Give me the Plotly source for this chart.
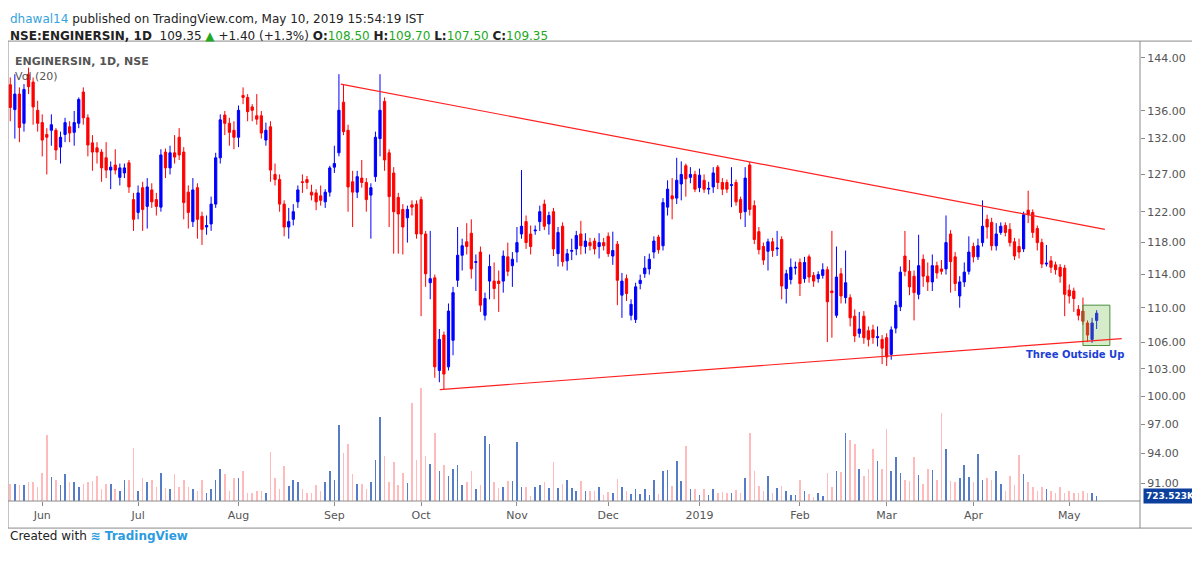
import math
import plotly.graph_objects as go

# daily OHLC, ENGINERSIN (NSE), late May 2018 -> 10 May 2019
opens = [139.9, 136.2, 138.5, 134.2, 141.5, 140.3, 136.1, 134.3, 132.6, 133.2,
         133.2, 130.8, 132.6, 133.7, 132.9, 134.2, 138.8, 135.0, 131.4, 130.7,
         130.1, 129.3, 127.6, 128.3, 126.6, 127.2, 128.6, 123.6, 121.9, 125.2,
         122.7, 124.9, 123.6, 122.6, 130.1, 127.9, 130.0, 132.2, 130.1, 124.6,
         120.7, 125.2, 121.4, 120.0, 120.4, 123.0, 129.3, 135.4, 134.2, 133.2,
         132.2, 138.3, 138.0, 136.6, 135.3, 135.3, 131.8, 133.7, 127.0, 126.3,
         123.0, 120.0, 121.0, 123.3, 126.0, 126.3, 124.6, 124.5, 124.1, 123.3,
         124.6, 128.0, 130.0, 137.3, 133.2, 126.0, 124.6, 126.5, 125.9, 124.2,
         126.7, 132.0, 137.4, 130.0, 127.2, 123.9, 122.3, 121.2, 122.9, 123.0,
         123.6, 119.1, 113.0, 113.6, 102.8, 106.8, 103.2, 106.2, 113.3, 116.4,
         118.1, 119.2, 115.5, 116.8, 109.1, 113.2, 113.2, 113.2, 113.2, 116.2,
         115.1, 116.8, 119.1, 120.7, 119.1, 119.5, 120.7, 123.0, 120.4, 122.0,
         116.6, 120.1, 115.7, 116.9, 117.2, 119.1, 117.5, 118.0, 118.2, 117.5,
         118.0, 118.8, 116.3, 117.8, 111.5, 113.5, 109.1, 108.6, 112.9, 114.1,
         114.7, 116.8, 118.7, 117.6, 122.6, 124.1, 123.8, 125.7, 128.2, 126.6,
         127.0, 125.2, 126.2, 125.0, 125.3, 128.0, 125.9, 125.9, 125.5, 125.9,
         123.6, 122.0, 128.3, 122.8, 119.4, 117.5, 116.9, 118.1, 117.2, 118.4,
         112.3, 113.4, 114.8, 115.5, 113.5, 116.2, 113.9, 113.5, 113.9, 114.6,
         112.0, 109.1, 114.1, 111.2, 111.2, 109.0, 107.0, 109.0, 107.3, 107.4,
         106.5, 106.3, 106.5, 104.6, 107.6, 110.1, 116.3, 114.4, 113.8, 111.6,
         115.9, 113.8, 113.1, 115.1, 114.7, 114.7, 119.1, 116.2, 111.4, 113.1,
         114.4, 117.5, 116.2, 118.0, 121.0, 120.6, 117.6, 119.3, 120.2, 119.7,
         118.1, 117.5, 117.2, 122.2, 121.9, 119.8, 118.0, 115.3, 115.7, 115.2,
         114.9, 114.8, 112.1, 112.0, 109.8, 109.6, 108.2, 106.3, 108.5]
highs = [141.0, 141.5, 139.5, 140.0, 142.5, 141.0, 137.5, 135.5, 133.5, 135.5,
         133.5, 133.0, 135.0, 134.5, 136.0, 138.0, 139.5, 135.5, 132.5, 131.5,
         130.5, 131.5, 128.8, 130.5, 128.5, 128.5, 129.0, 124.5, 125.5, 126.0,
         126.5, 125.8, 124.5, 130.5, 130.6, 131.0, 132.5, 133.5, 130.8, 125.5,
         126.5, 125.8, 122.0, 121.5, 124.0, 130.0, 135.5, 136.0, 135.0, 134.5,
         136.8, 139.5, 138.5, 137.0, 138.5, 136.0, 134.3, 134.5, 128.5, 127.0,
         123.5, 122.5, 123.0, 125.5, 127.0, 126.8, 125.6, 125.0, 125.5, 125.0,
         128.2, 131.0, 141.5, 140.0, 134.0, 127.5, 127.5, 129.0, 126.5, 125.8,
         133.0, 141.5, 138.0, 130.5, 128.0, 124.5, 123.0, 122.8, 123.5, 123.5,
         124.0, 119.5, 119.5, 114.0, 107.5, 107.2, 110.5, 112.5, 120.0, 118.5,
         120.5, 121.0, 116.5, 117.5, 111.8, 116.5, 115.5, 114.5, 117.0, 118.0,
         116.8, 120.0, 127.6, 121.5, 120.2, 120.2, 122.8, 123.6, 122.0, 122.5,
         120.0, 120.6, 117.2, 118.5, 119.5, 120.8, 119.2, 118.6, 118.6, 119.2,
         118.6, 119.3, 119.4, 118.2, 114.2, 114.0, 111.0, 113.0, 114.0, 116.3,
         116.6, 118.8, 119.0, 123.8, 126.2, 126.5, 129.3, 128.8, 128.5, 128.0,
         127.5, 127.8, 127.0, 126.0, 128.0, 128.3, 126.5, 126.3, 128.0, 126.3,
         124.0, 128.0, 128.7, 123.5, 120.0, 118.0, 118.5, 118.6, 119.5, 118.8,
         114.6, 116.0, 115.6, 116.0, 116.2, 116.5, 114.3, 114.4, 115.4, 115.0,
         119.5, 117.5, 114.8, 117.0, 111.6, 109.8, 109.5, 109.6, 107.8, 108.0,
         107.8, 106.8, 107.0, 107.8, 110.8, 115.0, 119.5, 115.8, 114.5, 119.0,
         116.5, 115.5, 116.5, 115.6, 115.8, 121.5, 119.6, 116.8, 113.8, 115.5,
         118.8, 118.0, 118.5, 123.5, 121.6, 121.2, 120.5, 120.6, 120.6, 120.5,
         118.6, 118.5, 122.0, 124.8, 122.3, 120.2, 118.5, 117.7, 116.3, 115.6,
         115.3, 115.2, 112.8, 112.4, 110.3, 111.2, 108.5, 108.8, 109.7]
lows = [134.5, 132.0, 131.5, 133.0, 138.5, 134.0, 133.0, 129.5, 127.0, 131.0,
        129.0, 128.5, 131.5, 131.5, 131.0, 133.5, 134.0, 129.5, 127.5, 128.5,
        126.0, 126.5, 125.0, 127.0, 125.5, 126.5, 124.5, 119.5, 121.0, 119.5,
        119.8, 122.5, 121.5, 122.0, 126.5, 127.0, 128.5, 129.0, 121.0, 119.8,
        120.0, 118.5, 117.7, 119.0, 119.5, 122.5, 128.5, 132.5, 131.0, 130.5,
        130.8, 137.0, 134.5, 134.5, 134.0, 132.0, 131.0, 126.0, 125.5, 122.0,
        118.8, 118.5, 120.2, 122.5, 124.5, 125.0, 123.5, 122.2, 122.8, 122.5,
        124.0, 127.2, 129.5, 132.5, 122.0, 120.0, 123.8, 125.2, 122.0, 118.5,
        126.0, 129.5, 127.5, 120.0, 116.6, 116.6, 116.5, 118.0, 121.5, 118.5,
        109.0, 112.5, 111.0, 102.0, 101.5, 100.7, 102.8, 104.5, 112.5, 114.5,
        116.5, 113.5, 112.0, 109.5, 108.5, 111.0, 111.0, 109.5, 111.8, 113.8,
        112.5, 115.5, 118.5, 117.2, 116.5, 119.0, 119.5, 119.6, 119.0, 116.3,
        115.0, 115.0, 114.5, 115.8, 116.4, 116.5, 116.6, 117.0, 116.5, 116.0,
        117.0, 116.2, 115.2, 110.3, 108.8, 110.8, 108.5, 108.2, 112.2, 113.6,
        114.0, 116.0, 116.6, 117.0, 121.5, 121.0, 123.0, 123.5, 124.0, 125.8,
        124.6, 124.6, 124.5, 124.3, 124.5, 125.0, 124.2, 124.5, 122.6, 122.8,
        121.0, 120.0, 121.5, 117.8, 116.5, 115.2, 114.5, 116.2, 116.3, 111.0,
        110.5, 112.8, 114.0, 111.4, 113.0, 113.0, 112.5, 113.0, 113.5, 106.0,
        106.5, 108.8, 110.5, 110.5, 107.8, 106.0, 106.5, 105.8, 105.5, 105.8,
        105.5, 103.5, 103.3, 104.0, 107.0, 109.6, 113.8, 111.5, 108.5, 111.0,
        112.5, 112.0, 112.0, 113.5, 114.0, 114.0, 111.8, 112.0, 110.0, 112.5,
        114.0, 115.5, 115.8, 117.5, 118.5, 117.0, 117.0, 119.0, 118.8, 117.5,
        115.8, 116.0, 116.8, 120.5, 118.6, 117.0, 114.8, 115.0, 114.2, 114.0,
        113.0, 109.0, 110.5, 109.5, 108.5, 108.0, 106.0, 105.9, 107.5]
closes = [136.5, 138.5, 133.6, 139.2, 139.6, 136.6, 134.2, 131.8, 132.2, 134.0,
          130.4, 132.2, 134.3, 132.8, 134.3, 137.7, 135.0, 131.1, 130.1, 130.1,
          127.9, 127.6, 128.0, 127.6, 127.9, 127.9, 125.3, 121.0, 124.5, 122.3,
          125.3, 123.3, 122.7, 129.7, 127.9, 130.0, 129.4, 129.7, 123.2, 121.9,
          124.9, 121.0, 119.7, 120.2, 123.0, 129.3, 134.7, 134.2, 132.9, 132.2,
          136.1, 138.0, 135.9, 136.1, 134.8, 132.8, 133.2, 127.6, 126.3, 123.0,
          120.0, 120.7, 122.0, 124.9, 125.9, 125.9, 124.2, 123.3, 123.5, 124.6,
          127.9, 128.5, 136.1, 133.0, 125.3, 124.6, 126.7, 125.9, 123.6, 125.2,
          132.2, 136.1, 129.0, 124.0, 122.0, 121.7, 120.0, 122.3, 122.6, 119.1,
          119.1, 114.1, 113.5, 103.2, 106.3, 102.4, 109.6, 111.8, 116.4, 117.6,
          117.5, 114.7, 115.6, 110.3, 111.1, 115.0, 112.3, 112.9, 116.3, 114.4,
          115.9, 118.0, 120.1, 118.0, 117.5, 119.6, 122.0, 120.1, 121.5, 117.2,
          119.3, 115.6, 116.6, 117.0, 118.9, 117.6, 118.2, 117.6, 117.2, 118.0,
          117.6, 116.6, 117.0, 113.3, 113.2, 111.7, 110.4, 112.5, 113.3, 114.8,
          115.9, 118.2, 117.1, 123.2, 125.0, 123.7, 126.2, 127.0, 126.4, 127.0,
          125.0, 126.9, 125.0, 125.1, 127.2, 125.9, 125.0, 125.0, 125.6, 123.3,
          121.9, 126.5, 122.3, 118.4, 117.1, 115.8, 118.1, 117.0, 117.3, 112.6,
          114.1, 114.9, 114.9, 112.9, 115.5, 113.7, 113.2, 114.0, 114.6, 110.7,
          111.8, 113.7, 111.4, 113.0, 108.8, 106.7, 107.5, 106.5, 106.3, 106.5,
          106.6, 105.3, 104.3, 107.4, 110.3, 114.3, 114.4, 112.5, 111.8, 115.1,
          113.8, 113.1, 115.1, 114.2, 114.4, 118.0, 115.6, 112.9, 113.1, 114.3,
          116.8, 116.2, 117.6, 120.1, 120.0, 117.6, 119.1, 120.1, 119.3, 118.0,
          116.3, 116.8, 121.6, 121.6, 119.3, 118.0, 115.3, 115.4, 114.9, 114.6,
          113.8, 111.6, 111.4, 111.1, 109.1, 108.4, 106.8, 108.2, 109.35]
# volume, millions of shares
volumes = [2.4, 2.4, 2.3, 2.3, 2.7, 2.7, 2.0, 4.0, 9.6, 3.5,
           3.1, 2.3, 3.9, 2.7, 2.7, 2.0, 2.4, 2.7, 2.9, 3.6,
           1.8, 2.4, 2.4, 1.7, 1.4, 3.0, 3.1, 7.7, 1.5, 3.3,
           2.8, 3.0, 2.0, 4.1, 1.9, 1.8, 3.9, 2.0, 3.1, 2.0,
           1.7, 1.4, 3.1, 1.1, 1.7, 3.1, 4.6, 3.9, 1.5, 3.4,
           3.3, 4.4, 1.1, 1.2, 1.4, 1.4, 1.1, 7.1, 3.3, 1.8,
           5.1, 2.2, 3.1, 2.7, 1.7, 1.1, 1.1, 2.3, 1.4, 2.7,
           4.4, 3.0, 11.0, 6.9, 8.3, 3.9, 2.4, 2.4, 1.7, 2.7,
           6.0, 12.2, 6.5, 2.8, 5.7, 2.3, 4.1, 2.6, 14.2, 6.0,
           16.4, 6.5, 5.4, 9.9, 4.3, 5.2, 3.6, 4.7, 5.2, 2.3,
           2.7, 4.3, 1.8, 2.3, 9.4, 8.2, 2.7, 1.9, 2.0, 2.9,
           2.9, 8.6, 2.0, 2.0, 0.7, 2.1, 2.3, 2.7, 1.9,
           5.6, 1.9, 2.5, 3.0, 1.9, 1.5, 2.9, 1.4, 1.4, 1.4,
           2.0, 0.9, 1.3, 1.1, 3.2, 2.0, 1.5, 1.0, 1.7, 1.0,
           1.7, 0.9, 3.0, 1.0, 4.4, 4.5, 2.2, 5.8, 2.9, 8.0,
           1.8, 1.8, 0.9, 1.7, 0.9, 1.7, 1.1, 1.3, 1.2, 1.1,
           1.6, 1.1, 3.4, 9.8, 4.4, 2.2, 1.4, 3.6, 1.2, 1.9,
           2.2, 1.5, 0.9, 0.9, 3.1, 1.4, 1.0, 0.6, 1.1, 0.7,
           4.0, 2.0, 4.4, 4.2, 9.8, 8.8, 8.2, 4.6, 3.6, 4.6,
           7.5, 5.8, 4.6, 10.4, 4.4, 6.4, 4.1, 3.0, 2.9, 6.4,
           3.8, 2.4, 4.6, 4.5, 3.0, 12.7, 7.5, 2.9, 2.8, 3.4,
           5.2, 3.5, 2.8, 6.8, 3.0, 3.4, 3.0, 4.4, 2.4, 1.4,
           3.6, 2.3, 6.7, 3.9, 2.7, 2.0, 1.4, 2.0, 1.7, 1.5,
           1.1, 2.0, 1.2, 1.4, 1.1, 1.1, 1.5, 1.2, 1.1, 0.723523]

month_pos = [7, 28, 50, 71, 90, 111, 131, 151, 173, 192, 211, 232]
month_txt = ["Jun", "Jul", "Aug", "Sep", "Oct", "Nov", "Dec", "2019", "Feb", "Mar", "Apr", "May"]
price_ticks = [91, 94, 97, 100, 103, 106, 110, 114, 118, 122, 127, 132, 136, 144]

# hand drawn trend lines and pattern box (bar index, price)
upper_x, upper_y = [72.4, 239.8], [140.0, 119.7]
lower_x, lower_y = [94.1, 243.5], [100.7, 106.4]
box_x, box_y = [235.0, 240.9], [105.6, 110.3]

n = len(closes)
idx = list(range(n))
vol_colors = ["rgba(30,80,180,0.75)" if c >= o else "rgba(255,120,120,0.5)"
              for o, c in zip(opens, closes)]

fig = go.Figure()
fig.add_trace(go.Bar(x=idx, y=volumes, yaxis="y2", marker_color=vol_colors,
                     marker_line_width=0, width=0.35, hoverinfo="skip"))
fig.add_trace(go.Scatter(
    x=[box_x[0], box_x[1], box_x[1], box_x[0], box_x[0]],
    y=[box_y[0], box_y[0], box_y[1], box_y[1], box_y[0]],
    mode="lines", fill="toself", fillcolor="rgba(120,190,80,0.3)",
    line=dict(color="#4a8f3a", width=1), hoverinfo="skip"))
fig.add_trace(go.Candlestick(
    x=idx, open=opens, high=highs, low=lows, close=closes,
    increasing=dict(line=dict(color="#0000ff", width=1), fillcolor="#0000ff"),
    decreasing=dict(line=dict(color="#ff0000", width=1), fillcolor="#ff0000"),
    whiskerwidth=0,
))
red = "#ff2020"
fig.add_trace(go.Scatter(x=upper_x, y=upper_y, mode="lines", line=dict(color=red, width=1.2),
                         hoverinfo="skip"))
fig.add_trace(go.Scatter(x=lower_x, y=lower_y, mode="lines", line=dict(color=red, width=1.2),
                         hoverinfo="skip"))

L = math.log10
grey = "#8a8a8a"
fig.update_layout(shapes=[
    dict(type="rect", xref="paper", yref="paper", x0=0, x1=1.047, y0=-0.059, y1=1.002,
         line=dict(color=grey, width=1)),
    dict(type="line", xref="paper", yref="paper", x0=1, x1=1, y0=-0.059, y1=1.002,
         line=dict(color=grey, width=1)),
    dict(type="line", xref="paper", yref="paper", x0=0, x1=1, y0=0, y1=0,
         line=dict(color=grey, width=1)),
])

fig.add_annotation(x=233.2, y=L(104.6), text="<b>Three Outside Up</b>", showarrow=False,
                   font=dict(color="#1a3fd6", size=10))
fig.add_annotation(xref="paper", x=1.0025, yref="y2", y=0.72, xanchor="left", showarrow=False,
                   text="<b>723.523K</b>", bgcolor="#0d3f9c", font=dict(color="white", size=9),
                   borderpad=2)
fig.add_annotation(xref="paper", yref="paper", x=0.004, y=0.975, xanchor="left", showarrow=False,
                   text="<b>ENGINERSIN, 1D, NSE</b>", font=dict(color="#555", size=11))
fig.add_annotation(xref="paper", yref="paper", x=0.004, y=0.943, xanchor="left", showarrow=False,
                   text="Vol (20)", font=dict(color="#555", size=11))
green = "#22a822"
fig.add_annotation(xref="paper", yref="paper", x=0, y=1.07, xanchor="left", showarrow=False,
                   text="<span style='color:#35a3dc'>dhawal14</span> published on TradingView.com, May 10, 2019 15:54:19 IST",
                   font=dict(color="#222", size=12))
fig.add_annotation(xref="paper", yref="paper", x=0, y=1.032, xanchor="left", showarrow=False,
                   text=("<b>NSE:ENGINERSIN, 1D</b>  109.35 <span style='color:%s'>▲</span> +1.40 (+1.3%%) "
                         "<b>O:</b><span style='color:%s'>108.50</span> <b>H:</b><span style='color:%s'>109.70</span> "
                         "<b>L:</b><span style='color:%s'>107.50</span> <b>C:</b><span style='color:%s'>109.35</span>")
                   % (green, green, green, green, green),
                   font=dict(color="#222", size=12))
fig.add_annotation(xref="paper", yref="paper", x=0, y=-0.096, xanchor="left", showarrow=False,
                   text="Created with <span style='color:#2d9be0'><b>≋ TradingView</b></span>",
                   font=dict(color="#222", size=12))

fig.update_layout(
    width=1194, height=555,
    margin=dict(l=0, r=62, t=34, b=62),
    paper_bgcolor="white", plot_bgcolor="white",
    showlegend=False,
    font=dict(family="DejaVu Sans, sans-serif"),
    xaxis=dict(range=[-0.5, 247.5], tickvals=month_pos, ticktext=month_txt,
               showgrid=False, zeroline=False, ticks="outside", ticklen=4, tickcolor=grey,
               tickfont=dict(color="#555", size=11), rangeslider=dict(visible=False)),
    yaxis=dict(type="log", side="right", range=[L(89.3), L(146.5)], tickvals=price_ticks,
               tickformat=".2f", showgrid=False, zeroline=False, ticks="outside", ticklen=4,
               tickcolor=grey, tickfont=dict(color="#555", size=11)),
    yaxis2=dict(overlaying="y", range=[0, 66.6], visible=False),
    bargap=0,
)

fig.write_html("out.html")
